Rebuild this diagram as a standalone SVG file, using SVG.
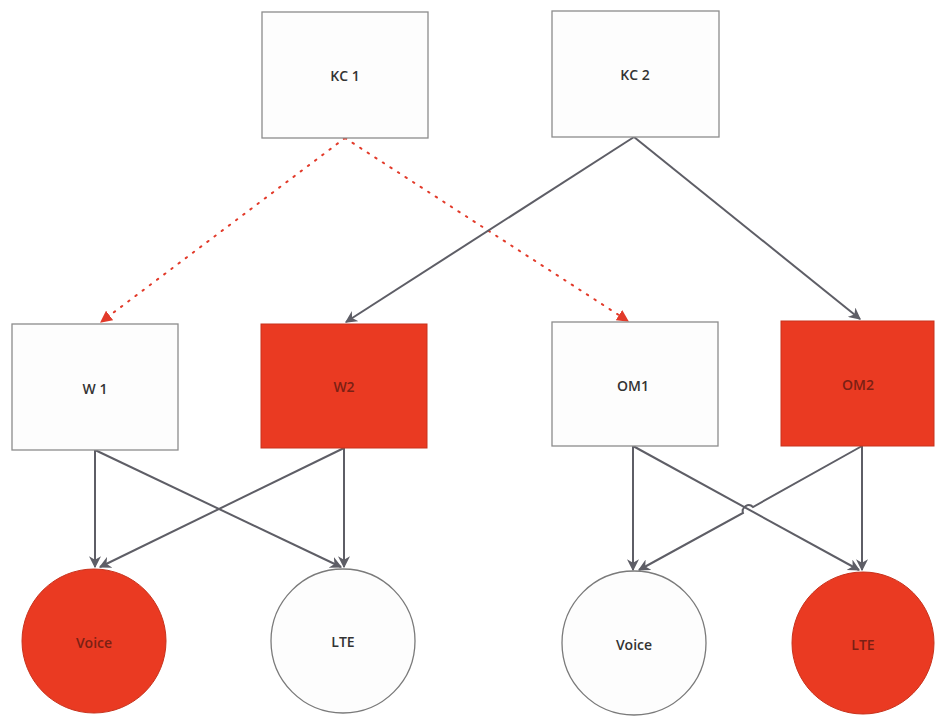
<svg xmlns="http://www.w3.org/2000/svg" width="936" height="717" viewBox="0 0 936 717">
<style>
.box{fill:#fdfdfd;stroke:#8c8c8c;stroke-width:1.3}
.red{fill:#ea3a22;stroke:#c8321c;stroke-width:1}
.circ{fill:#fdfdfd;stroke:#7a7a7a;stroke-width:1.3}
.lbl{font-family:"Open Sans","Liberation Sans",sans-serif;font-size:14px;font-weight:600;fill:#333333;text-anchor:middle;dominant-baseline:central}
.lblr{font-family:"Open Sans","Liberation Sans",sans-serif;font-size:14px;font-weight:600;fill:#7a2014;text-anchor:middle;dominant-baseline:central}
.ln{fill:none;stroke:#5e5e66;stroke-width:2}
.dot{fill:none;stroke:#e23a2a;stroke-width:2;stroke-dasharray:1.5 7.5;stroke-linecap:round}
</style>
<defs>
<marker id="ag" viewBox="0 0 10 10" refX="9" refY="5" markerWidth="6" markerHeight="6" orient="auto" markerUnits="strokeWidth">
<path d="M0,0 L10,5 L0,10 L3,5 Z" fill="#5e5e66"/>
</marker>
<marker id="ar" viewBox="0 0 10 10" refX="9" refY="5" markerWidth="6" markerHeight="6" orient="auto" markerUnits="strokeWidth">
<path d="M0,0 L10,5 L0,10 Z" fill="#e23a2a"/>
</marker>
</defs>
<rect width="936" height="717" fill="#ffffff"/>
<g id="connectors">
<path class="dot" d="M345,138 L101,322" marker-end="url(#ar)"/>
<path class="dot" d="M345,138 L628,321" marker-end="url(#ar)"/>
<path class="ln" d="M634,137 L346,322" marker-end="url(#ag)"/>
<path class="ln" d="M634,137 L860,319" marker-end="url(#ag)"/>
<path class="ln" d="M95,450 L95,567" marker-end="url(#ag)"/>
<path class="ln" d="M95,450 L341,567" marker-end="url(#ag)"/>
<path class="ln" d="M344,448 L100,567" marker-end="url(#ag)"/>
<path class="ln" d="M344,448 L344,567" marker-end="url(#ag)"/>
<path class="ln" d="M633,446 L633,570" marker-end="url(#ag)"/>
<path class="ln" d="M633,446 L859,570" marker-end="url(#ag)"/>
<path class="ln" d="M862,446 L753,507 A6,6 0 0 0 743,513 L639,570" marker-end="url(#ag)"/>
<path class="ln" d="M862,446 L862,570" marker-end="url(#ag)"/>
</g>
<g id="kc1"><rect class="box" x="262" y="12" width="166" height="126"/><text class="lbl" x="345" y="75">KC 1</text></g>
<g id="kc2"><rect class="box" x="552" y="11" width="167" height="126"/><text class="lbl" x="635" y="74">KC 2</text></g>
<g id="w1"><rect class="box" x="12" y="324" width="166" height="126"/><text class="lbl" x="95" y="388">W 1</text></g>
<g id="w2"><rect class="red" x="261" y="324" width="166" height="124"/><text class="lblr" x="344" y="386">W2</text></g>
<g id="om1"><rect class="box" x="552" y="322" width="166" height="124"/><text class="lbl" x="633" y="385">OM1</text></g>
<g id="om2"><rect class="red" x="781" y="321" width="153" height="125"/><text class="lblr" x="858" y="384">OM2</text></g>
<g id="voice1"><circle class="red" cx="94" cy="641" r="72"/><text class="lblr" x="94" y="642">Voice</text></g>
<g id="lte1"><circle class="circ" cx="343" cy="641" r="72"/><text class="lbl" x="343" y="641">LTE</text></g>
<g id="voice2"><circle class="circ" cx="634" cy="643" r="72"/><text class="lbl" x="634" y="644">Voice</text></g>
<g id="lte2"><circle class="red" cx="863" cy="643" r="71"/><text class="lblr" x="863" y="644">LTE</text></g>
</svg>
